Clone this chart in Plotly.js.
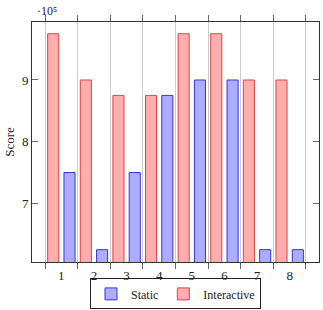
<!DOCTYPE html>
<html>
<head>
<meta charset="utf-8">
<script src="https://cdn.plot.ly/plotly-3.0.1.min.js"></script>
<style>html,body{margin:0;padding:0;background:#fff;}#chart{width:323px;height:310px;}</style>
</head>
<body>
<div id="chart"></div>
<script>
var categories = ['1','2','3','4','5','6','7','8'];
var staticScores = [750000, 625000, 750000, 875000, 900000, 900000, 625000, 625000];
var interactiveScores = [975000, 900000, 875000, 875000, 975000, 975000, 900000, 900000];
var yTickVals = [700000, 800000, 900000];
var yTickText = ['7', '8', '9'];

var fontFam = '"Liberation Serif", "DejaVu Serif", serif';

var traces = [
  {
    type: 'bar', name: 'Static', x: categories, y: staticScores,
    offset: 0.08, width: 0.34,
    marker: {color: '#adadff', line: {color: '#3535d8', width: 1}}
  },
  {
    type: 'bar', name: 'Interactive', x: categories, y: interactiveScores,
    offset: -0.42, width: 0.34,
    marker: {color: '#ffadad', line: {color: '#dd4444', width: 1}}
  }
];

var layout = {
  width: 323, height: 310,
  margin: {l: 32, r: 4, t: 22, b: 48},
  paper_bgcolor: '#fff', plot_bgcolor: '#fff',
  barmode: 'overlay',
  font: {family: fontFam, size: 12, color: '#222'},
  showlegend: true,
  legend: {
    orientation: 'h', xref: 'paper', yref: 'container',
    x: 0.5, xanchor: 'center', y: 0.002, yanchor: 'bottom',
    bordercolor: '#222', borderwidth: 1, bgcolor: 'rgba(255,255,255,0)',
    font: {family: fontFam, size: 12, color: '#222'},
    itemwidth: 30
  },
  xaxis: {
    type: 'category',
    range: [-0.9, 7.9],
    tickson: 'boundaries',
    ticks: 'outside', ticklen: 6, tickcolor: '#666', tickwidth: 1,
    ticklabelstandoff: 1,
    showgrid: true, gridcolor: '#cccccc', gridwidth: 1,
    showline: true, linecolor: '#333', linewidth: 1, mirror: 'allticks',
    zeroline: false, automargin: false,
    tickfont: {family: fontFam, size: 13, color: '#222'}
  },
  yaxis: {
    range: [605000, 994000],
    tickvals: yTickVals, ticktext: yTickText,
    ticks: 'inside', ticklen: 6, tickcolor: '#666', tickwidth: 1,
    showgrid: false, zeroline: false,
    showline: true, linecolor: '#333', linewidth: 1, mirror: 'allticks',
    automargin: false,
    tickfont: {family: fontFam, size: 13, color: '#222'},
    title: {text: 'Score', font: {family: fontFam, size: 13, color: '#222'}, standoff: 4}
  },
  annotations: [
    {
      xref: 'paper', yref: 'paper', x: 0, y: 1, xanchor: 'left', yanchor: 'bottom',
      xshift: 3, yshift: 2,
      text: '·10⁵', showarrow: false,
      font: {family: fontFam, size: 12, color: '#222222'}
    }
  ]
};

Plotly.newPlot('chart', traces, layout, {displayModeBar: false, staticPlot: true});
</script>
</body>
</html>
